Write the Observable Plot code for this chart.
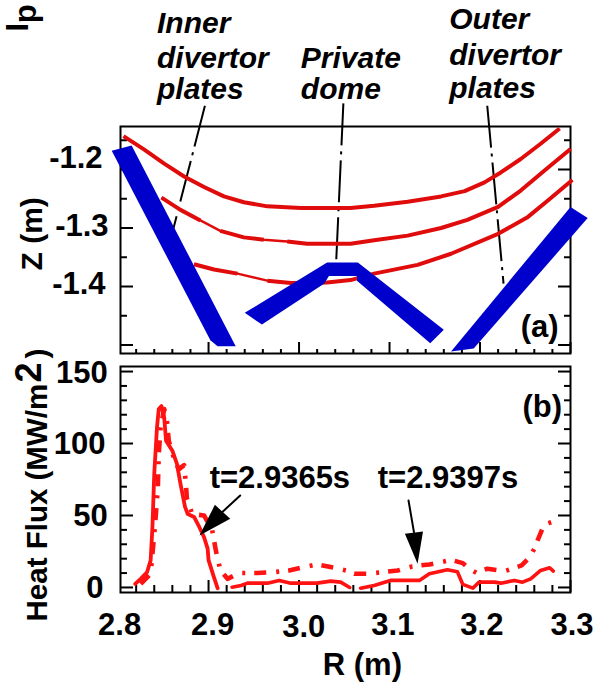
<!DOCTYPE html>
<html>
<head>
<meta charset="utf-8">
<script src="https://cdn.jsdelivr.net/npm/d3@7"></script>
<script src="https://cdn.jsdelivr.net/npm/@observablehq/plot@0.6"></script>
<style>
html,body{margin:0;padding:0;background:#fff}
#wrap{position:relative;width:607px;height:684px;overflow:hidden}
#wrap svg{position:absolute;left:0;overflow:visible;max-width:none}
</style>
</head>
<body>
<div id="wrap"></div>
<script>
const font = "'Liberation Sans', Arial, sans-serif";
const blue = "#0000cc", redA = "#e00c0c", redB = "#ff1212";

// separatrix traces, panel (a)
const topR = [2.806,2.829,2.851,2.873,2.895,2.917,2.939,2.965,3.002,3.057,3.083,3.120,3.157,3.183,3.205,3.223,3.245,3.267,3.288];
const topZ = [-1.143,-1.166,-1.190,-1.212,-1.230,-1.246,-1.256,-1.263,-1.266,-1.266,-1.262,-1.255,-1.246,-1.237,-1.222,-1.205,-1.182,-1.156,-1.130];
const midR = [2.848,2.869,2.891,2.913,2.939,2.961,2.987,3.009,3.057,3.083,3.120,3.157,3.186,3.220,3.245,3.271,3.300];
const midZ = [-1.248,-1.269,-1.287,-1.305,-1.316,-1.320,-1.323,-1.327,-1.327,-1.321,-1.313,-1.300,-1.286,-1.264,-1.236,-1.202,-1.165];
const lowR = [2.884,2.906,2.932,2.965,2.991,3.031,3.057,3.083,3.131,3.168,3.220,3.253,3.275,3.302];
const lowZ = [-1.362,-1.371,-1.378,-1.390,-1.394,-1.393,-1.389,-1.378,-1.363,-1.344,-1.310,-1.281,-1.253,-1.218];

// plates, panel (a)
const innerR = [2.793,2.815,2.930,2.910,2.902];
const innerZ = [-1.168,-1.159,-1.502,-1.502,-1.492];
const domeR = [2.940,2.959,3.028,3.033,3.064,3.064,3.145,3.160,3.065,3.031];
const domeZ = [-1.445,-1.465,-1.395,-1.382,-1.382,-1.390,-1.497,-1.474,-1.359,-1.359];
const outerR = [3.168,3.193,3.319,3.300];
const outerZ = [-1.511,-1.506,-1.283,-1.264];

// leader lines, panel (a)
const leadInnerR = [2.896,2.856], leadInnerZ = [-1.091,-1.332];
const leadDomeR = [3.049,3.041], leadDomeZ = [-1.087,-1.359];
const leadOuterR = [3.208,3.226], leadOuterZ = [-1.091,-1.395];

// heat flux, panel (b)
const q1R = [2.819,2.825,2.832,2.836,2.838,2.840,2.843,2.845,2.848,2.851,2.853,2.860,2.865,2.869,2.874,2.877,2.884,2.889,2.895,2.899,2.900,2.906,2.910];
const q1Q = [2.5,6,10.6,18.8,41.9,79,111,124,126,118,102,95,86,72,56,51,49,43,35,27,19,7,-0.5];
const q2aR = [2.926,2.936,2.943,2.965,2.978,2.991,3.020,3.035,3.046,3.056];
const q2aQ = [0.2,1.4,3,3,4.9,3,3,4.4,3.7,0];
const q2bR = [3.068,3.083,3.101,3.133,3.144,3.164,3.175,3.181,3.192,3.199,3.216,3.223,3.238,3.247,3.256,3.267,3.277,3.281];
const q2bQ = [-0.5,1.4,4.9,4.9,9.5,12.3,10.9,2.1,-0.5,3.7,3.7,3,4.9,3.7,6,11.8,13.7,11.4];
const q3R = [2.825,2.836,2.841,2.844,2.845,2.847,2.851,2.854,2.856,2.860,2.867,2.873,2.875,2.876,2.882,2.895,2.904,2.908,2.913,2.921,2.934,2.954,2.971,2.989,3.002,3.020,3.039,3.052,3.061,3.076,3.092,3.109,3.125,3.133,3.144,3.160,3.168,3.181,3.188,3.196,3.208,3.227,3.232,3.246,3.255,3.260,3.264,3.271,3.279];
const q3Q = [2.5,9.5,44,70,93,111,124,116,102,93,82,85,72,62,51,50,40,26,12,6,10,10,10.6,11.8,13.7,16,13.7,11.8,9.5,9.5,10.6,11.8,14.6,15.3,16,18,19.2,16.9,13,10.2,13,11.3,12.3,15.3,21,26.9,33.3,43.8,45.4];

// arrows, panel (b)
const arrow1ShaftR = [2.935,2.915], arrow1ShaftQ = [63.9,52.3];
const arrow1HeadR = [2.890,2.907,2.924], arrow1HeadQ = [36.1,57.4,47.7];
const arrow2ShaftR = [3.121,3.127], arrow2ShaftQ = [60.4,38.4];
const arrow2HeadR = [3.117,3.137,3.131], arrow2HeadQ = [37.3,38.9,16.4];

// ticks and labels
const xMajor = [2.9,3.0,3.1,3.2,3.3];
const xMinor = [2.82,2.84,2.86,2.88,2.92,2.94,2.96,2.98,3.02,3.04,3.06,3.08,3.12,3.14,3.16,3.18,3.22,3.24,3.26,3.28];
const xTickLabels = ["2.8","2.9","3.0","3.1","3.2","3.3"];
const xTickLabelR = [2.8017,2.9045,3.0052,3.1037,3.2021,3.3017];
const xTickLabelQ = [-33.3,-33.3,-34.7,-33.3,-33.3,-33.3];
const zMajor = [-1.2,-1.3,-1.4,-1.5];
const zMinor = [-1.15,-1.25,-1.35,-1.45];
const zTickLabels = ["-1.2","-1.3","-1.4"];
const zTickLabelR = [2.7829,2.7895,2.7862];
const zTickLabelZ = [-1.198,-1.313,-1.412];
const qMajor = [0,50,100,150];
const qMinor = [10,20,30,40,60,70,80,90,110,120,130,140];
const qTickLabels = ["0","50","100","150"];
const qTickLabelR = [2.7840,2.7885,2.7862,2.7885];
const qTickLabelQ = [-7,43,93,142];

const pairs = (a, b) => a.map((v, i) => [v, b[i]]);
const txt = (label, x, y, o = {}) => Plot.text([label], {x: () => x, y: () => y, text: d => d, fontFamily: font, fontWeight: "bold", fontSize: 31, fill: "black", textAnchor: "start", lineAnchor: "bottom", ...o});
const axes = (yMajor, yMinor, lenMajor, lenMinor) => [
  Plot.axisX({anchor: "bottom", ticks: xMajor, tickSize: -lenMajor, fill: "none", label: null, strokeWidth: 2}),
  Plot.axisX({anchor: "bottom", ticks: xMinor, tickSize: -lenMinor, fill: "none", label: null, strokeWidth: 2}),
  Plot.axisY({anchor: "left", ticks: yMajor, tickSize: -13, fill: "none", label: null, strokeWidth: 2}),
  Plot.axisY({anchor: "left", ticks: yMinor, tickSize: -7, fill: "none", label: null, strokeWidth: 2}),
  Plot.axisY({anchor: "right", ticks: yMajor, tickSize: -13, fill: "none", label: null, strokeWidth: 2}),
  Plot.axisY({anchor: "right", ticks: yMinor, tickSize: -7, fill: "none", label: null, strokeWidth: 2}),
  Plot.frame({stroke: "black", strokeWidth: 2})
];
const lead = (a, b) => Plot.line(pairs(a, b), {stroke: "black", strokeWidth: 2, strokeLinecap: "butt", strokeDasharray: "42 6 3 6"});
const red = (pts, w) => Plot.line(pts, {stroke: redA, strokeWidth: w, strokeLinecap: "butt"});
const xDomain = [2.8027, 3.3];
const midP = pairs(midR, midZ), lowP = pairs(lowR, lowZ);

const panelA = Plot.plot({
  width: 607, height: 360, marginTop: 126, marginBottom: 7, marginLeft: 120, marginRight: 37,
  style: {fontFamily: font, background: "transparent", overflow: "visible"},
  x: {domain: xDomain, axis: null}, y: {domain: [-1.5145, -1.1265], axis: null},
  marks: [
    ...axes(zMajor, zMinor, 11, 4),
    lead(leadInnerR, leadInnerZ), lead(leadDomeR, leadDomeZ), lead(leadOuterR, leadOuterZ),
    red(pairs(topR, topZ), 4),
    red(midP, 2.4), red(midP.slice(0, 3), 4), red(midP.slice(3, 6), 4), red(midP.slice(6), 4),
    red(lowP, 2.4), red(lowP.slice(0, 3), 4), red(lowP.slice(3), 4),
    Plot.line(pairs(innerR, innerZ), {fill: blue, stroke: "none"}),
    Plot.line(pairs(domeR, domeZ), {fill: blue, stroke: "none"}),
    Plot.line(pairs(outerR, outerZ), {fill: blue, stroke: "none"}),
    ...zTickLabels.map((t, i) => txt(t, zTickLabelR[i], zTickLabelZ[i], {textAnchor: "end"})),
    txt("Z (m)", 2.7165, -1.3726, {rotate: -90, fontSize: 30}),
    txt("I", 2.700, -0.964, {rotate: -90}),
    txt("p", 2.7089, -0.950, {rotate: -90}),
    txt("(a)", 3.245, -1.487),
    ...[["Inner", -0.966], ["divertor", -1.026], ["plates", -1.079]].map(([t, z]) => txt(t, 2.843, z, {fontStyle: "italic", fontSize: 30})),
    ...[["Private", -1.026], ["dome", -1.079]].map(([t, z]) => txt(t, 3.002, z, {fontStyle: "italic", fontSize: 30})),
    ...[["Outer", -0.959], ["divertor", -1.021], ["plates", -1.077]].map(([t, z]) => txt(t, 3.166, z, {fontStyle: "italic", fontSize: 30}))
  ]
});
panelA.style.top = "0px";

const panelB = Plot.plot({
  width: 607, height: 324, marginTop: 6, marginBottom: 92, marginLeft: 120, marginRight: 37,
  style: {fontFamily: font, background: "transparent", overflow: "visible"},
  x: {domain: xDomain, axis: null}, y: {domain: [-3.5, 153.5], axis: null},
  marks: [
    ...axes(qMajor, qMinor, 12, 7),
    Plot.line(pairs(q3R, q3Q), {stroke: redB, strokeWidth: 4.6, strokeLinecap: "butt", strokeDasharray: "12 10 3 9"}),
    Plot.line(pairs(q1R, q1Q), {stroke: redB, strokeWidth: 3.8}),
    Plot.line(pairs(q2aR, q2aQ), {stroke: redB, strokeWidth: 3.6}),
    Plot.line(pairs(q2bR, q2bQ), {stroke: redB, strokeWidth: 3.6}),
    Plot.line(pairs(arrow1ShaftR, arrow1ShaftQ), {stroke: "black", strokeWidth: 2}),
    Plot.line(pairs(arrow1HeadR, arrow1HeadQ), {fill: "black", stroke: "none"}),
    Plot.line(pairs(arrow2ShaftR, arrow2ShaftQ), {stroke: "black", strokeWidth: 2}),
    Plot.line(pairs(arrow2HeadR, arrow2HeadQ), {fill: "black", stroke: "none"}),
    ...qTickLabels.map((t, i) => txt(t, qTickLabelR[i], qTickLabelQ[i], {textAnchor: "end"})),
    ...xTickLabels.map((t, i) => txt(t, xTickLabelR[i], xTickLabelQ[i], {textAnchor: "middle"})),
    txt("R (m)", 3.070, -61, {textAnchor: "middle"}),
    txt("Heat Flux (MW/m", 2.7217, -23.6, {rotate: -90, fontSize: 29.5}),
    txt("2", 2.7143, 142.4, {rotate: -90, fontSize: 36}),
    txt(")", 2.7217, 159, {rotate: -90, fontSize: 30}),
    txt("t=2.9365s", 2.9012, 68.8),
    txt("t=2.9397s", 3.087, 68.8),
    txt("(b)", 3.247, 118.1)
  ]
});
panelB.style.top = "360px";

document.getElementById("wrap").append(panelA, panelB);
</script>
</body>
</html>
